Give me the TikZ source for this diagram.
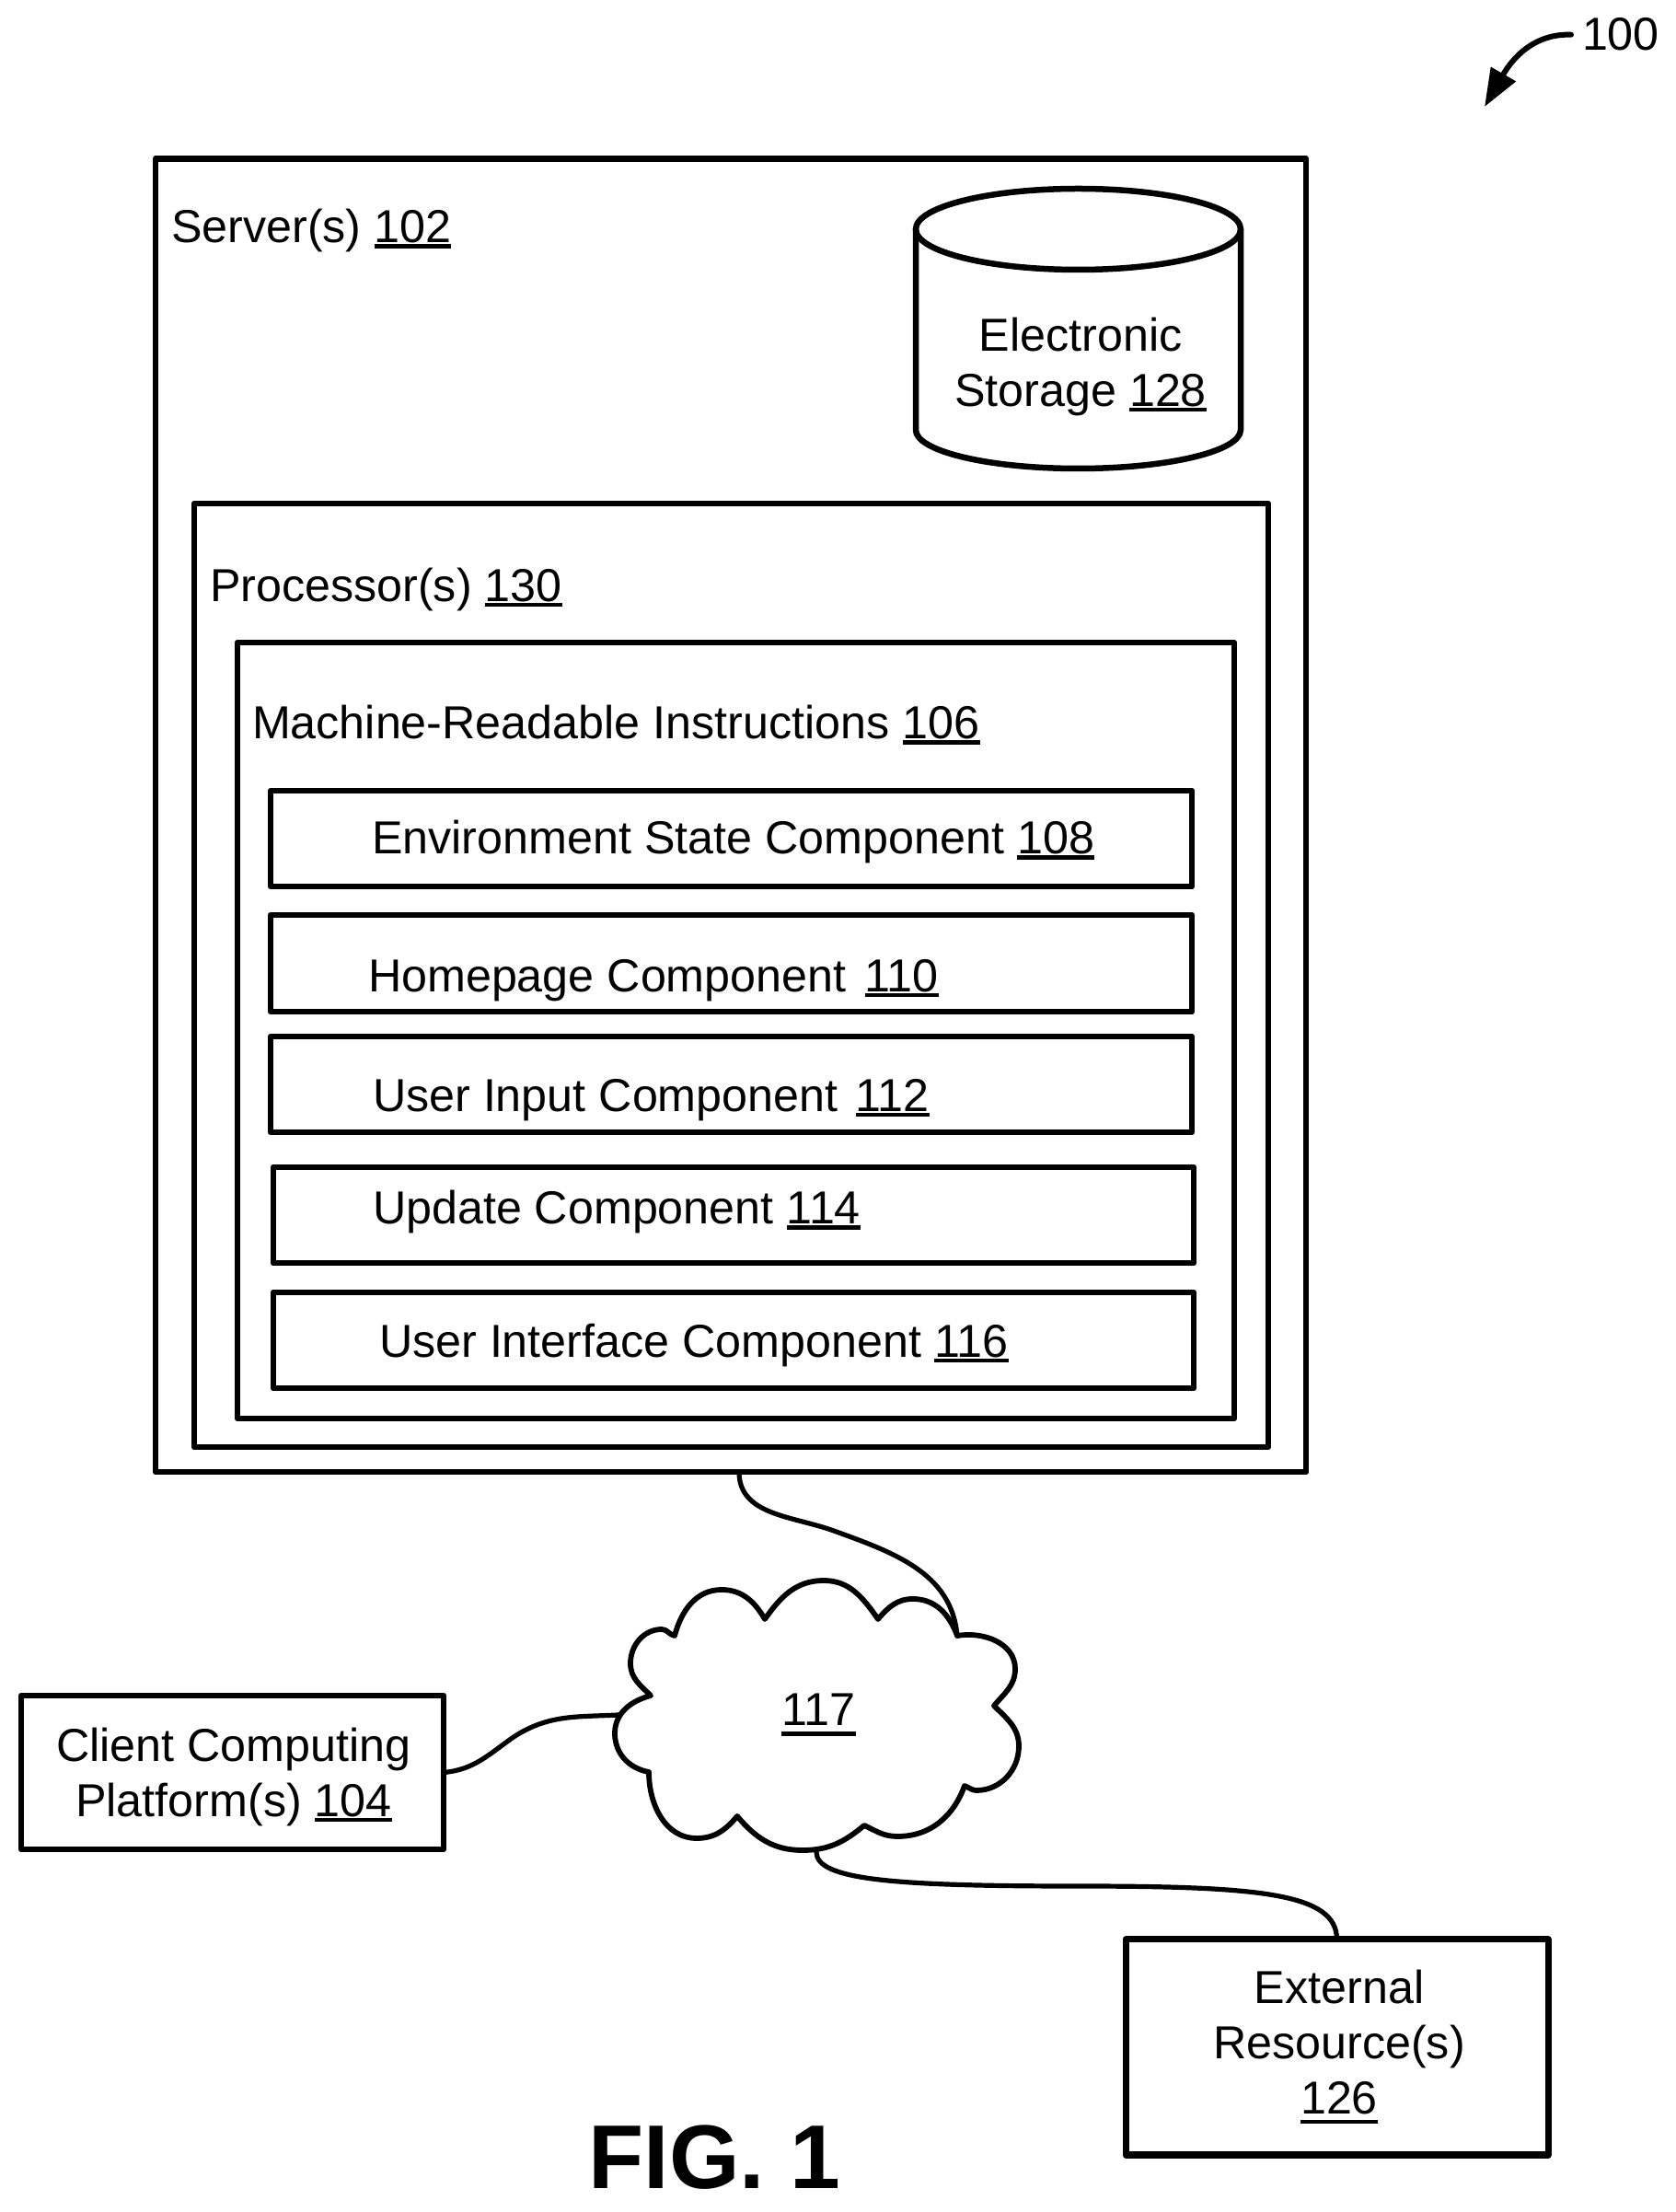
\documentclass[tikz,border=0pt]{standalone}
\usepackage{fontspec}
\setmainfont{Liberation Sans}
\usetikzlibrary{arrows.meta}

\newcommand{\labelfont}{\fontsize{14.3}{17.07}\selectfont}
\newcommand{\refnum}[2][-1.7pt]{\leavevmode\setbox0=\hbox{#2}\rlap{\smash{\rule[#1]{\wd0}{1.3pt}}}\box0 }

\tikzset{
  boxnode/.style={draw, line width=0.065cm, line join=round, inner sep=0pt, outer sep=0pt},
  compbox/.style={boxnode, minimum height=1.04cm},
  textnode/.style={inner sep=0pt, outer sep=0pt, font=\labelfont},
  wire/.style={line width=0.052cm, line cap=round}
}

\begin{document}
\begin{tikzpicture}

\useasboundingbox (0,0) rectangle (18.2,24.03);

\node[boxnode, minimum width=12.50cm, minimum height=14.265cm] (server) at (7.94,15.1725) {};
\node[boxnode, minimum width=11.67cm, minimum height=10.25cm] (processor) at (7.945,13.435) {};
\node[boxnode, minimum width=10.83cm, minimum height=8.43cm] (instructions) at (7.995,12.835) {};

\node[compbox, minimum width=10.01cm] (environment) at (7.945,14.92) {};
\node[compbox, minimum width=10.01cm, minimum height=1.05cm] (homepage) at (7.945,13.565) {};
\node[compbox, minimum width=10.01cm] (userinput) at (7.945,12.25) {};
\node[compbox, minimum width=10.00cm] (update) at (7.97,10.83) {};
\node[compbox, minimum width=10.00cm] (interface) at (7.97,9.47) {};

\node[boxnode, minimum width=4.59cm, minimum height=1.67cm] (client) at (2.525,4.775) {};
\node[boxnode, line width=0.07cm, minimum width=4.59cm, minimum height=2.34cm] (external) at (14.525,1.79) {};

\node[textnode, anchor=base west] (serverlabel) at (1.86,21.394) {Server(s) \refnum{102}};
\node[textnode, anchor=base west] (processorlabel) at (2.28,17.495) {Processor(s) \refnum{130}};
\node[textnode, anchor=base west] (instructionslabel) at (2.74,16.00) {Machine-Readable Instructions \refnum{106}};
\node[textnode, anchor=base west] (environmentlabel) at (4.04,14.75) {Environment State Component \refnum{108}};
\node[textnode, anchor=base west] (homepagelabel) at (4.00,13.255) {Homepage Component\hspace{0.06cm} \refnum{110}};
\node[textnode, anchor=base west] (userinputlabel) at (4.05,11.955) {User Input Component\hspace{0.05cm} \refnum{112}};
\node[textnode, anchor=base west] (updatelabel) at (4.05,10.73) {Update Component \refnum{114}};
\node[textnode, anchor=base west] (interfacelabel) at (4.12,9.285) {User Interface Component \refnum{116}};
\node[textnode, align=center] (clientlabel) at (2.54,4.725) {Client Computing\\Platform(s) \refnum{104}};
\node[textnode, align=center] (externallabel) at (14.55,1.845) {External\\Resource(s)\\\refnum[-3.1pt]{126}};

\draw[line width=0.065cm] (11.715,21.54) ellipse (1.765 and 0.44);
\draw[line width=0.065cm] (9.95,21.54) -- (9.95,19.36)
  arc[start angle=180, end angle=360, x radius=1.765, y radius=0.42] -- (13.48,21.54);
\node[textnode, align=center] (storagelabel) at (11.74,20.045) {Electronic\\Storage \refnum{128}};

\coordinate (c1) at (7.33,6.26);
\coordinate (t1) at (7.84,6.76);
\coordinate (c2) at (8.31,6.44);
\coordinate (t2) at (8.95,6.86);
\coordinate (c3) at (9.54,6.44);
\coordinate (t3) at (9.92,6.66);
\coordinate (c4) at (10.40,6.26);
\coordinate (t4) at (11.03,5.90);
\coordinate (c5) at (10.80,5.50);
\coordinate (t5) at (11.07,5.06);
\coordinate (b5) at (10.61,4.58);
\coordinate (c6) at (10.48,4.63);
\coordinate (t6) at (9.75,4.08);
\coordinate (c7) at (9.39,4.20);
\coordinate (t7) at (8.72,3.93);
\coordinate (c8) at (8.01,4.30);
\coordinate (t8) at (7.57,4.06);
\coordinate (c9) at (7.05,4.78);
\coordinate (t9) at (6.68,5.20);
\coordinate (c10) at (7.07,5.61);
\coordinate (t10) at (6.85,5.96);
\coordinate (b10) at (7.19,6.33);

\draw[line width=0.058cm, line join=round] (c1) to[out=75,in=180] (t1) to[out=0,in=120] (c2)
  to[out=55,in=180] (t2) to[out=0,in=125] (c3)
  to[out=50,in=180] (t3) to[out=0,in=110] (c4)
  to[out=10,in=90] (t4) to[out=-90,in=50] (c5)
  to[out=-45,in=90] (t5) to[out=-90,in=0] (b5) to[out=180,in=-20] (c6)
  to[out=-110,in=0] (t6) to[out=180,in=-25] (c7)
  to[out=-140,in=0] (t7) to[out=180,in=-50] (c8)
  to[out=-130,in=0] (t8) to[out=180,in=-90] (c9)
  to[out=170,in=-90] (t9) to[out=90,in=195] (c10)
  to[out=135,in=-90] (t10) to[out=90,in=180] (b10) to[out=0,in=170] (c1) -- cycle;

\node[textnode, anchor=base] (cloudlabel) at (8.895,5.28) {\refnum[-3.1pt]{117}};

\coordinate (serverbend) at (9.06,7.40);
\coordinate (clientbend) at (5.58,5.16);
\coordinate (cloudleft) at (6.72,5.40);
\coordinate (cloudbottom) at (8.87,3.91);
\coordinate (externalbend) at (11.70,3.54);

\draw[wire] ([xshift=0.09cm]server.south) to[out=-90,in=160] (serverbend) to[out=-20,in=95] (c4);
\draw[wire] (client.east) to[out=5,in=215] (clientbend) to[out=33,in=183] (cloudleft);
\draw[wire] (cloudbottom) to[out=-90,in=180,out distance=0.3cm,in distance=2cm] (externalbend)
  to[out=0,in=90,out distance=2cm,in distance=0.5cm] (external.north);

\node[textnode, anchor=base west] (figurelabel) at (17.19,23.48) {100};
\coordinate (figuretip) at (16.13,22.87);
\draw[line width=0.06cm, line cap=round, -{Triangle[length=0.41cm,width=0.3cm]}]
  ([xshift=-0.12cm]figurelabel.west) to[out=178,in=60] (figuretip);

\node[inner sep=0pt, anchor=base west, font=\fontsize{28}{34}\selectfont\bfseries] (figname) at (6.39,0.25) {FIG. 1};

\end{tikzpicture}
\end{document}
